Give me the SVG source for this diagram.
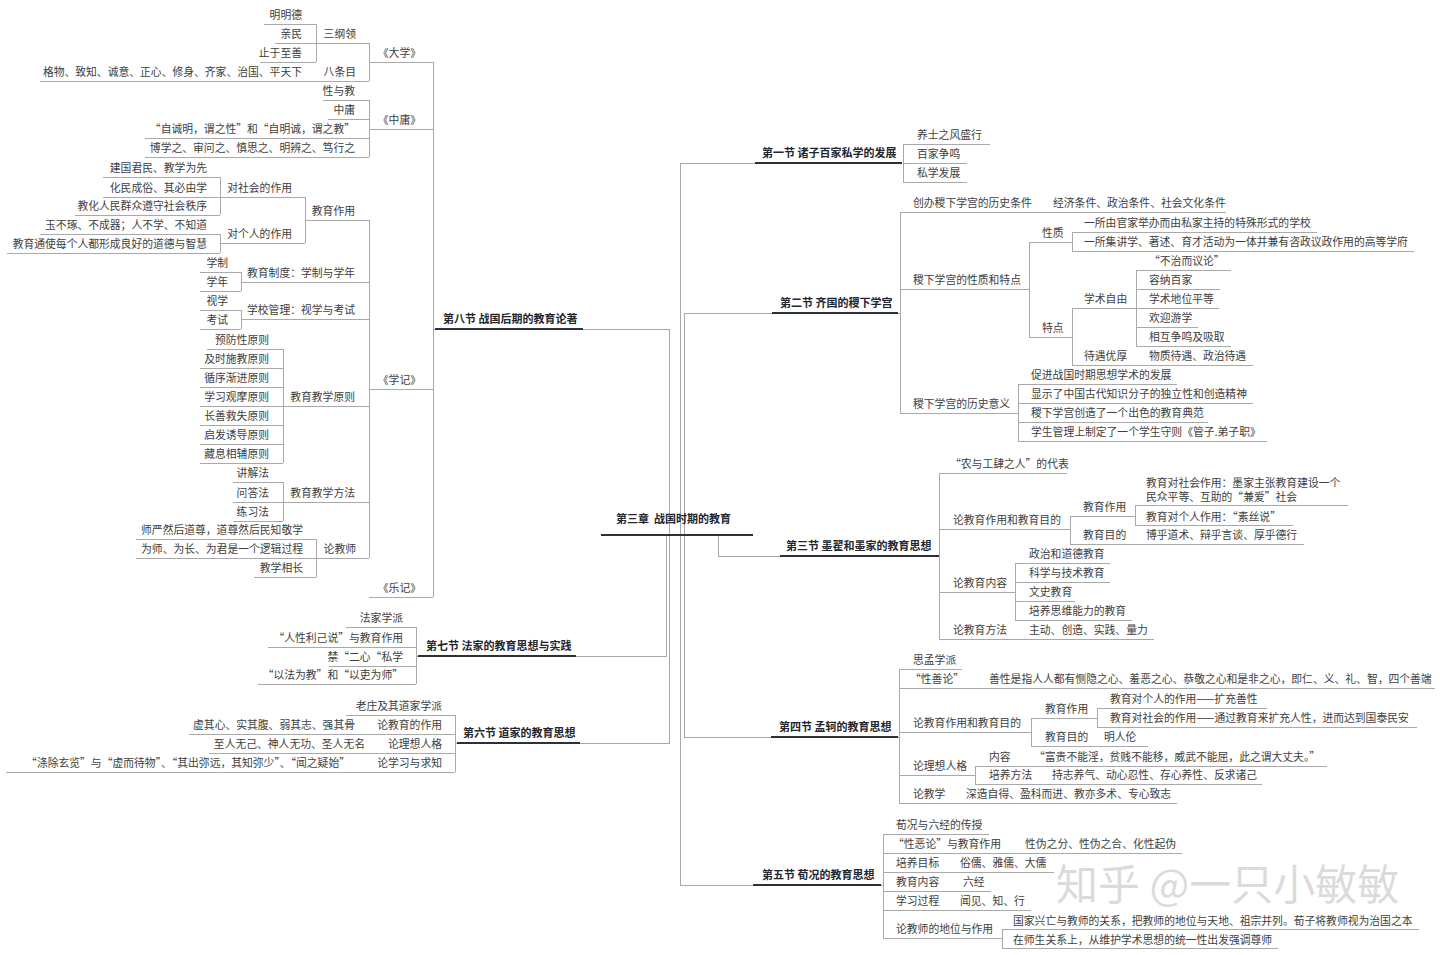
<svg xmlns="http://www.w3.org/2000/svg" width="1440" height="955" viewBox="0 0 1440 955">
<style>
text{font-family:"Noto Sans CJK SC","Noto Sans",sans-serif;font-size:10.8px;fill:#404040}
.r{text-anchor:end}
.b{font-weight:bold;font-size:11px;fill:#23262e}
line,path{shape-rendering:crispEdges}
.u{stroke:#a9a9a9;stroke-width:1}
.h{stroke:#2b303b;stroke-width:2}
.c line,.c path{stroke:#a9a9a9;stroke-width:1;fill:none}
.wm{font-size:42px;fill:#bdbdbd;fill-opacity:0.55}
</style>
<rect width="1440" height="955" fill="#ffffff"/>

<g id="connectors" class="c">
<path d="M680,535V163H755"/>
<path d="M680,535V885H753"/>
<path d="M684,535V313H772"/>
<path d="M684,535V737H771"/>
<path d="M718,535V556H780"/>
<path d="M669,535V329H583"/>
<path d="M666,535V656H576"/>
<path d="M669,535V743H580"/>
<line x1="903" y1="144" x2="903" y2="182"/>
<line x1="900" y1="212" x2="900" y2="413"/>
<line x1="1029" y1="242" x2="1029" y2="337"/>
<line x1="1072" y1="232" x2="1072" y2="251"/>
<line x1="1072" y1="308" x2="1072" y2="365"/>
<line x1="1136" y1="270" x2="1136" y2="346"/>
<line x1="1018" y1="384" x2="1018" y2="441"/>
<line x1="939" y1="473" x2="939" y2="639"/>
<line x1="1070" y1="516" x2="1070" y2="544"/>
<line x1="1135" y1="505" x2="1135" y2="525"/>
<line x1="1015" y1="563" x2="1015" y2="620"/>
<line x1="899" y1="669" x2="899" y2="803"/>
<line x1="1031" y1="718" x2="1031" y2="746"/>
<line x1="1097" y1="708" x2="1097" y2="727"/>
<line x1="975" y1="766" x2="975" y2="784"/>
<line x1="883" y1="834" x2="883" y2="938"/>
<line x1="1002" y1="929" x2="1002" y2="948"/>
<line x1="433" y1="62" x2="433" y2="597"/>
<line x1="369" y1="43" x2="369" y2="81"/>
<line x1="316" y1="24" x2="316" y2="62"/>
<line x1="369" y1="100" x2="369" y2="157"/>
<line x1="369" y1="220" x2="369" y2="558"/>
<line x1="305" y1="197" x2="305" y2="243"/>
<line x1="220" y1="177" x2="220" y2="215"/>
<line x1="220" y1="234" x2="220" y2="253"/>
<line x1="241" y1="272" x2="241" y2="291"/>
<line x1="241" y1="310" x2="241" y2="329"/>
<line x1="283" y1="349" x2="283" y2="463"/>
<line x1="283" y1="482" x2="283" y2="521"/>
<line x1="316" y1="539" x2="316" y2="577"/>
<line x1="416" y1="627" x2="416" y2="684"/>
<line x1="455" y1="715" x2="455" y2="772"/>
<line x1="433" y1="329" x2="435" y2="329"/>
<line x1="416" y1="656" x2="418" y2="656"/>
<line x1="455" y1="743" x2="457" y2="743"/>
<line x1="898" y1="313" x2="900" y2="313"/>
<line x1="898" y1="737" x2="899" y2="737"/>
<line x1="881" y1="885" x2="883" y2="885"/>
</g>

<g id="center"><line class="h" x1="601" y1="535" x2="753" y2="535"/><text class="b" x="616" y="523" xml:space="preserve">第三章  战国时期的教育</text></g>

<!-- 第一节 -->
<g id="s1"><line class="h" x1="755" y1="163" x2="902" y2="163"/><text class="b" x="762" y="157">第一节 诸子百家私学的发展</text></g>
<g id="a1"><line class="u" x1="903" y1="144" x2="990" y2="144"/><text x="917" y="139">养士之风盛行</text></g>
<g id="a2"><line class="u" x1="903" y1="163" x2="967" y2="163"/><text x="917" y="158">百家争鸣</text></g>
<g id="a3"><line class="u" x1="903" y1="182" x2="967" y2="182"/><text x="917" y="177">私学发展</text></g>

<!-- 第二节 -->
<g id="s2"><line class="h" x1="772" y1="313" x2="898" y2="313"/><text class="b" x="780" y="307">第二节 齐国的稷下学宫</text></g>
<g id="b1"><line class="u" x1="900" y1="212" x2="1041" y2="212"/><text x="913" y="207">创办稷下学宫的历史条件</text></g>
<g id="b1a"><line class="u" x1="1041" y1="212" x2="1226" y2="212"/><text x="1053" y="207">经济条件、政治条件、社会文化条件</text></g>
<g id="b2"><line class="u" x1="900" y1="289" x2="1029" y2="289"/><text x="913" y="284">稷下学宫的性质和特点</text></g>
<g id="b2a"><line class="u" x1="1029" y1="242" x2="1072" y2="242"/><text x="1042" y="237">性质</text></g>
<g id="b2a1"><line class="u" x1="1072" y1="232" x2="1317" y2="232"/><text x="1084" y="227">一所由官家举办而由私家主持的特殊形式的学校</text></g>
<g id="b2a2"><line class="u" x1="1072" y1="251" x2="1414" y2="251"/><text x="1084" y="246">一所集讲学、著述、育才活动为一体并兼有咨政议政作用的高等学府</text></g>
<g id="b2b"><line class="u" x1="1029" y1="337" x2="1072" y2="337"/><text x="1042" y="332">特点</text></g>
<g id="b2b1"><line class="u" x1="1072" y1="308" x2="1136" y2="308"/><text x="1084" y="303">学术自由</text></g>
<g id="b2b1a"><line class="u" x1="1136" y1="270" x2="1231" y2="270"/><text x="1149" y="265">“不治而议论”</text></g>
<g id="b2b1b"><line class="u" x1="1136" y1="289" x2="1220" y2="289"/><text x="1149" y="284">容纳百家</text></g>
<g id="b2b1c"><line class="u" x1="1136" y1="308" x2="1219" y2="308"/><text x="1149" y="303">学术地位平等</text></g>
<g id="b2b1d"><line class="u" x1="1136" y1="327" x2="1198" y2="327"/><text x="1149" y="322">欢迎游学</text></g>
<g id="b2b1e"><line class="u" x1="1136" y1="346" x2="1231" y2="346"/><text x="1149" y="341">相互争鸣及吸取</text></g>
<g id="b2b2"><line class="u" x1="1072" y1="365" x2="1137" y2="365"/><text x="1084" y="360">待遇优厚</text></g>
<g id="b2b2a"><line class="u" x1="1137" y1="365" x2="1253" y2="365"/><text x="1149" y="360">物质待遇、政治待遇</text></g>
<g id="b3"><line class="u" x1="900" y1="413" x2="1018" y2="413"/><text x="913" y="408">稷下学宫的历史意义</text></g>
<g id="b3a"><line class="u" x1="1018" y1="384" x2="1177" y2="384"/><text x="1031" y="379">促进战国时期思想学术的发展</text></g>
<g id="b3b"><line class="u" x1="1018" y1="403" x2="1253" y2="403"/><text x="1031" y="398">显示了中国古代知识分子的独立性和创造精神</text></g>
<g id="b3c"><line class="u" x1="1018" y1="422" x2="1208" y2="422"/><text x="1031" y="417">稷下学宫创造了一个出色的教育典范</text></g>
<g id="b3d"><line class="u" x1="1018" y1="441" x2="1267" y2="441"/><text x="1031" y="436">学生管理上制定了一个学生守则《管子.弟子职》</text></g>

<!-- 第三节 -->
<g id="s3"><line class="h" x1="780" y1="556" x2="939" y2="556"/><text class="b" x="786" y="550">第三节 墨翟和墨家的教育思想</text></g>
<g id="c1"><line class="u" x1="939" y1="473" x2="1067" y2="473"/><text x="950" y="468">“农与工肆之人”的代表</text></g>
<g id="c2"><line class="u" x1="939" y1="529" x2="1070" y2="529"/><text x="953" y="524">论教育作用和教育目的</text></g>
<g id="c2a"><line class="u" x1="1070" y1="516" x2="1135" y2="516"/><text x="1083" y="511">教育作用</text></g>
<g id="c2a1"><line class="u" x1="1135" y1="505" x2="1348" y2="505"/><text x="1146" y="487">教育对社会作用：墨家主张教育建设一个</text><text x="1146" y="501">民众平等、互助的“兼爱”社会</text></g>
<g id="c2a2"><line class="u" x1="1135" y1="525" x2="1293" y2="525"/><text x="1146" y="521">教育对个人作用：“素丝说”</text></g>
<g id="c2b"><line class="u" x1="1070" y1="544" x2="1135" y2="544"/><text x="1083" y="539">教育目的</text></g>
<g id="c2b1"><line class="u" x1="1135" y1="544" x2="1304" y2="544"/><text x="1146" y="539">博乎道术、辩乎言谈、厚乎德行</text></g>
<g id="c3"><line class="u" x1="939" y1="592" x2="1015" y2="592"/><text x="953" y="587">论教育内容</text></g>
<g id="c3a"><line class="u" x1="1015" y1="563" x2="1110" y2="563"/><text x="1029" y="558">政治和道德教育</text></g>
<g id="c3b"><line class="u" x1="1015" y1="582" x2="1110" y2="582"/><text x="1029" y="577">科学与技术教育</text></g>
<g id="c3c"><line class="u" x1="1015" y1="601" x2="1075" y2="601"/><text x="1029" y="596">文史教育</text></g>
<g id="c3d"><line class="u" x1="1015" y1="620" x2="1132" y2="620"/><text x="1029" y="615">培养思维能力的教育</text></g>
<g id="c4"><line class="u" x1="939" y1="639" x2="1017" y2="639"/><text x="953" y="634">论教育方法</text></g>
<g id="c4a"><line class="u" x1="1017" y1="639" x2="1154" y2="639"/><text x="1029" y="634">主动、创造、实践、量力</text></g>

<!-- 第四节 -->
<g id="s4"><line class="h" x1="771" y1="737" x2="898" y2="737"/><text class="b" x="779" y="731">第四节 孟轲的教育思想</text></g>
<g id="d1"><line class="u" x1="899" y1="669" x2="962" y2="669"/><text x="913" y="664">思孟学派</text></g>
<g id="d2"><line class="u" x1="899" y1="688" x2="976" y2="688"/><text x="910" y="683">“性善论”</text></g>
<g id="d2a"><line class="u" x1="976" y1="688" x2="1435" y2="688"/><text x="989" y="683">善性是指人人都有恻隐之心、羞恶之心、恭敬之心和是非之心，即仁、义、礼、智，四个善端</text></g>
<g id="d3"><line class="u" x1="899" y1="732" x2="1031" y2="732"/><text x="913" y="727">论教育作用和教育目的</text></g>
<g id="d3a"><line class="u" x1="1031" y1="718" x2="1097" y2="718"/><text x="1045" y="713">教育作用</text></g>
<g id="d3a1"><line class="u" x1="1097" y1="708" x2="1267" y2="708"/><text x="1110" y="703">教育对个人的作用——扩充善性</text></g>
<g id="d3a2"><line class="u" x1="1097" y1="727" x2="1417" y2="727"/><text x="1110" y="722">教育对社会的作用——通过教育来扩充人性，进而达到国泰民安</text></g>
<g id="d3b"><line class="u" x1="1031" y1="746" x2="1097" y2="746"/><text x="1045" y="741">教育目的</text></g>
<g id="d3b1"><line class="u" x1="1097" y1="746" x2="1148" y2="746"/><text x="1104" y="741">明人伦</text></g>
<g id="d4"><line class="u" x1="899" y1="775" x2="975" y2="775"/><text x="913" y="770">论理想人格</text></g>
<g id="d4a"><line class="u" x1="975" y1="766" x2="1024" y2="766"/><text x="989" y="761">内容</text></g>
<g id="d4a1"><line class="u" x1="1024" y1="766" x2="1327" y2="766"/><text x="1034" y="761">“富贵不能淫，贫贱不能移，威武不能屈，此之谓大丈夫。”</text></g>
<g id="d4b"><line class="u" x1="975" y1="784" x2="1042" y2="784"/><text x="989" y="779">培养方法</text></g>
<g id="d4b1"><line class="u" x1="1042" y1="784" x2="1262" y2="784"/><text x="1052" y="779">持志养气、动心忍性、存心养性、反求诸己</text></g>
<g id="d5"><line class="u" x1="899" y1="803" x2="955" y2="803"/><text x="913" y="798">论教学</text></g>
<g id="d5a"><line class="u" x1="955" y1="803" x2="1177" y2="803"/><text x="966" y="798">深造自得、盈科而进、教亦多术、专心致志</text></g>

<!-- 第五节 -->
<g id="s5"><line class="h" x1="753" y1="885" x2="881" y2="885"/><text class="b" x="762" y="879">第五节 荀况的教育思想</text></g>
<g id="e1"><line class="u" x1="883" y1="834" x2="989" y2="834"/><text x="896" y="829">荀况与六经的传授</text></g>
<g id="e2"><line class="u" x1="883" y1="853" x2="1014" y2="853"/><text x="893" y="848">“性恶论”与教育作用</text></g>
<g id="e2a"><line class="u" x1="1014" y1="853" x2="1182" y2="853"/><text x="1025" y="848">性伪之分、性伪之合、化性起伪</text></g>
<g id="e3"><line class="u" x1="883" y1="872" x2="948" y2="872"/><text x="896" y="867">培养目标</text></g>
<g id="e3a"><line class="u" x1="948" y1="872" x2="1054" y2="872"/><text x="960" y="867">俗儒、雅儒、大儒</text></g>
<g id="e4"><line class="u" x1="883" y1="891" x2="952" y2="891"/><text x="896" y="886">教育内容</text></g>
<g id="e4a"><line class="u" x1="952" y1="891" x2="991" y2="891"/><text x="963" y="886">六经</text></g>
<g id="e5"><line class="u" x1="883" y1="910" x2="948" y2="910"/><text x="896" y="905">学习过程</text></g>
<g id="e5a"><line class="u" x1="948" y1="910" x2="1031" y2="910"/><text x="960" y="905">闻见、知、行</text></g>
<g id="e6"><line class="u" x1="883" y1="938" x2="1002" y2="938"/><text x="896" y="933">论教师的地位与作用</text></g>
<g id="e6a"><line class="u" x1="1002" y1="929" x2="1419" y2="929"/><text x="1013" y="925">国家兴亡与教师的关系，把教师的地位与天地、祖宗并列。荀子将教师视为治国之本</text></g>
<g id="e6b"><line class="u" x1="1002" y1="948" x2="1278" y2="948"/><text x="1013" y="944">在师生关系上，从维护学术思想的统一性出发强调尊师</text></g>

<!-- 第八节 -->
<g id="s8"><line class="h" x1="435" y1="329" x2="583" y2="329"/><text class="b" x="443" y="323">第八节 战国后期的教育论著</text></g>
<g id="L1"><line class="u" x1="369" y1="62" x2="433" y2="62"/><text class="r" x="421" y="57">《大学》</text></g>
<g id="L1a"><line class="u" x1="316" y1="43" x2="369" y2="43"/><text class="r" x="356" y="38">三纲领</text></g>
<g id="L1a1"><line class="u" x1="264" y1="24" x2="316" y2="24"/><text class="r" x="302" y="19">明明德</text></g>
<g id="L1a2"><line class="u" x1="275" y1="43" x2="316" y2="43"/><text class="r" x="302" y="38">亲民</text></g>
<g id="L1a3"><line class="u" x1="260" y1="62" x2="316" y2="62"/><text class="r" x="302" y="57">止于至善</text></g>
<g id="L1b"><line class="u" x1="316" y1="81" x2="369" y2="81"/><text class="r" x="356" y="76">八条目</text></g>
<g id="L1b1"><line class="u" x1="40" y1="81" x2="316" y2="81"/><text class="r" x="302" y="76">格物、致知、诚意、正心、修身、齐家、治国、平天下</text></g>
<g id="L2"><line class="u" x1="369" y1="129" x2="433" y2="129"/><text class="r" x="421" y="124">《中庸》</text></g>
<g id="L2a"><line class="u" x1="323" y1="100" x2="369" y2="100"/><text class="r" x="355" y="95">性与教</text></g>
<g id="L2b"><line class="u" x1="328" y1="119" x2="369" y2="119"/><text class="r" x="355" y="114">中庸</text></g>
<g id="L2c"><line class="u" x1="145" y1="138" x2="369" y2="138"/><text class="r" x="355" y="133">“自诚明，谓之性”和“自明诚，谓之教”</text></g>
<g id="L2d"><line class="u" x1="145" y1="157" x2="369" y2="157"/><text class="r" x="355" y="152">博学之、审问之、慎思之、明辨之、笃行之</text></g>
<g id="L3"><line class="u" x1="369" y1="389" x2="433" y2="389"/><text class="r" x="421" y="384">《学记》</text></g>
<g id="L3a"><line class="u" x1="305" y1="220" x2="369" y2="220"/><text class="r" x="355" y="215">教育作用</text></g>
<g id="L3a1"><line class="u" x1="220" y1="197" x2="305" y2="197"/><text class="r" x="292" y="192">对社会的作用</text></g>
<g id="L3a1a"><line class="u" x1="103" y1="177" x2="220" y2="177"/><text class="r" x="207" y="172">建国君民、教学为先</text></g>
<g id="L3a1b"><line class="u" x1="103" y1="197" x2="220" y2="197"/><text class="r" x="207" y="192">化民成俗、其必由学</text></g>
<g id="L3a1c"><line class="u" x1="75" y1="215" x2="220" y2="215"/><text class="r" x="207" y="210">教化人民群众遵守社会秩序</text></g>
<g id="L3a2"><line class="u" x1="220" y1="243" x2="305" y2="243"/><text class="r" x="292" y="238">对个人的作用</text></g>
<g id="L3a2a"><line class="u" x1="40" y1="234" x2="220" y2="234"/><text class="r" x="207" y="229">玉不琢、不成器；人不学、不知道</text></g>
<g id="L3a2b"><line class="u" x1="7" y1="253" x2="220" y2="253"/><text class="r" x="207" y="248">教育通使每个人都形成良好的道德与智慧</text></g>
<g id="L3b"><line class="u" x1="241" y1="282" x2="369" y2="282"/><text class="r" x="355" y="277">教育制度：学制与学年</text></g>
<g id="L3b1"><line class="u" x1="200" y1="272" x2="241" y2="272"/><text class="r" x="228" y="267">学制</text></g>
<g id="L3b2"><line class="u" x1="200" y1="291" x2="241" y2="291"/><text class="r" x="228" y="286">学年</text></g>
<g id="L3c"><line class="u" x1="241" y1="319" x2="369" y2="319"/><text class="r" x="355" y="314">学校管理：视学与考试</text></g>
<g id="L3c1"><line class="u" x1="200" y1="310" x2="241" y2="310"/><text class="r" x="228" y="305">视学</text></g>
<g id="L3c2"><line class="u" x1="200" y1="329" x2="241" y2="329"/><text class="r" x="228" y="324">考试</text></g>
<g id="L3d"><line class="u" x1="283" y1="406" x2="369" y2="406"/><text class="r" x="355" y="401">教育教学原则</text></g>
<g id="L3d1"><line class="u" x1="207" y1="349" x2="283" y2="349"/><text class="r" x="269" y="344">预防性原则</text></g>
<g id="L3d2"><line class="u" x1="200" y1="368" x2="283" y2="368"/><text class="r" x="269" y="363">及时施教原则</text></g>
<g id="L3d3"><line class="u" x1="200" y1="387" x2="283" y2="387"/><text class="r" x="269" y="382">循序渐进原则</text></g>
<g id="L3d4"><line class="u" x1="200" y1="406" x2="283" y2="406"/><text class="r" x="269" y="401">学习观摩原则</text></g>
<g id="L3d5"><line class="u" x1="200" y1="425" x2="283" y2="425"/><text class="r" x="269" y="420">长善救失原则</text></g>
<g id="L3d6"><line class="u" x1="200" y1="444" x2="283" y2="444"/><text class="r" x="269" y="439">启发诱导原则</text></g>
<g id="L3d7"><line class="u" x1="200" y1="463" x2="283" y2="463"/><text class="r" x="269" y="458">藏息相辅原则</text></g>
<g id="L3e"><line class="u" x1="283" y1="502" x2="369" y2="502"/><text class="r" x="355" y="497">教育教学方法</text></g>
<g id="L3e1"><line class="u" x1="233" y1="482" x2="283" y2="482"/><text class="r" x="269" y="477">讲解法</text></g>
<g id="L3e2"><line class="u" x1="233" y1="502" x2="283" y2="502"/><text class="r" x="269" y="497">问答法</text></g>
<g id="L3e3"><line class="u" x1="233" y1="521" x2="283" y2="521"/><text class="r" x="269" y="516">练习法</text></g>
<g id="L3f"><line class="u" x1="316" y1="558" x2="369" y2="558"/><text class="r" x="356" y="553">论教师</text></g>
<g id="L3f1"><line class="u" x1="136" y1="539" x2="316" y2="539"/><text class="r" x="303" y="534">师严然后道尊，道尊然后民知敬学</text></g>
<g id="L3f2"><line class="u" x1="136" y1="558" x2="316" y2="558"/><text class="r" x="303" y="553">为师、为长、为君是一个逻辑过程</text></g>
<g id="L3f3"><line class="u" x1="254" y1="577" x2="316" y2="577"/><text class="r" x="303" y="572">教学相长</text></g>
<g id="L4"><line class="u" x1="369" y1="597" x2="433" y2="597"/><text class="r" x="421" y="592">《乐记》</text></g>

<!-- 第七节 -->
<g id="s7"><line class="h" x1="418" y1="656" x2="576" y2="656"/><text class="b" x="426" y="650">第七节 法家的教育思想与实践</text></g>
<g id="L7a"><line class="u" x1="346" y1="627" x2="416" y2="627"/><text class="r" x="403" y="622">法家学派</text></g>
<g id="L7b"><line class="u" x1="268" y1="647" x2="416" y2="647"/><text class="r" x="403" y="642">“人性利己说”与教育作用</text></g>
<g id="L7c"><line class="u" x1="329" y1="666" x2="416" y2="666"/><text class="r" x="403" y="661">禁“二心“私学</text></g>
<g id="L7d"><line class="u" x1="258" y1="684" x2="416" y2="684"/><text class="r" x="403" y="679">“以法为教”和“以吏为师”</text></g>

<!-- 第六节 -->
<g id="s6"><line class="h" x1="457" y1="743" x2="580" y2="743"/><text class="b" x="463" y="737">第六节 道家的教育思想</text></g>
<g id="L6a"><line class="u" x1="346" y1="715" x2="455" y2="715"/><text class="r" x="442" y="710">老庄及其道家学派</text></g>
<g id="L6b"><line class="u" x1="367" y1="734" x2="455" y2="734"/><text class="r" x="442" y="729">论教育的作用</text></g>
<g id="L6b1"><line class="u" x1="189" y1="734" x2="367" y2="734"/><text class="r" x="355" y="729">虚其心、实其腹、弱其志、强其骨</text></g>
<g id="L6c"><line class="u" x1="377" y1="753" x2="455" y2="753"/><text class="r" x="442" y="748">论理想人格</text></g>
<g id="L6c1"><line class="u" x1="209" y1="753" x2="377" y2="753"/><text class="r" x="365" y="748">至人无己、神人无功、圣人无名</text></g>
<g id="L6d"><line class="u" x1="364" y1="772" x2="455" y2="772"/><text class="r" x="442" y="767">论学习与求知</text></g>
<g id="L6d1"><line class="u" x1="6" y1="772" x2="364" y2="772"/><text class="r" x="350" y="767">“涤除玄览”与“虚而待物”、“其出弥远，其知弥少”、“闻之疑始”</text></g>

<g id="watermark"><text class="wm" x="1056" y="900">知乎 @一只小敏敏</text></g>
</svg>
